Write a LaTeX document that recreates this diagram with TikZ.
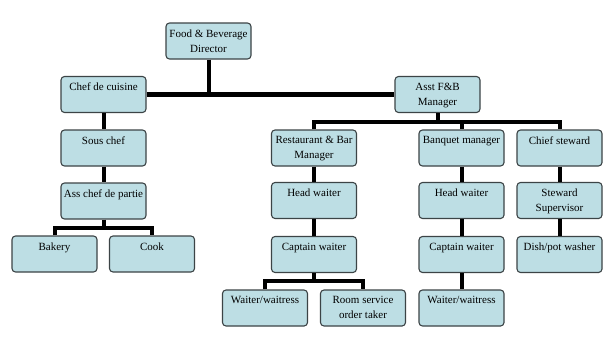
\documentclass[tikz,border=0pt]{standalone}
\usepackage{fontspec}
\setmainfont{Liberation Serif}
\definecolor{boxfill}{HTML}{BDDEE4}
\definecolor{boxline}{HTML}{3C4446}
\tikzset{
  box/.style={draw=boxline, fill=boxfill, rounded corners=3.5pt, line width=1.1pt,
    minimum width=85pt, minimum height=36pt, inner sep=0pt},
  lbl/.style={anchor=north, inner sep=0pt, align=center, text=black,
    font=\fontsize{11}{15}\selectfont},
  conn/.style={draw=black, line width=4pt, line join=miter},
}
\newcommand\obox[4]{%
  \node[box] (#1) at (#2,#3) {};
  \node[lbl] (#1-t) at ([yshift=-7pt]#1.north) {#4};}
\begin{document}
\begin{tikzpicture}[x=1pt,y=-1pt]
\useasboundingbox[fill=white] (0,0) rectangle (605,338);
% boxes
\obox{fbd}{208.5}{41}{Food \& Beverage\\Director}
\obox{cdc}{103.5}{94.5}{Chef de cuisine}
\obox{asst}{437.5}{94.5}{Asst F\&B\\Manager}
\obox{sous}{103.5}{148}{Sous chef}
\obox{acp}{103.5}{201}{Ass chef de partie}
\obox{bak}{54.5}{254}{Bakery}
\obox{cook}{152}{254}{Cook}
\obox{rb}{314}{148}{Restaurant \& Bar\\Manager}
\obox{hwa}{314}{200.5}{Head waiter}
\obox{cwa}{314}{254.5}{Captain waiter}
\obox{wwa}{265}{308}{Waiter/waitress}
\obox{rs}{363}{308}{Room service\\order taker}
\obox{bm}{461.5}{148}{Banquet manager}
\obox{hwb}{461.5}{200.5}{Head waiter}
\obox{cwb}{461.5}{254.5}{Captain waiter}
\obox{wwb}{461.5}{308}{Waiter/waitress}
\obox{cs}{559.5}{148}{Chief steward}
\obox{ss}{559.5}{200.5}{Steward\\Supervisor}
\obox{dish}{559.5}{254.5}{Dish/pot washer}
% connectors
\draw[conn, line width=5pt] (cdc.east) -- (asst.west);
\draw[conn] (fbd.south) -- (fbd.south |- cdc.east);
\draw[conn] (cdc.south) -- (sous.north);
\draw[conn] (sous.south) -- (acp.north);
\coordinate (kb) at ([yshift=-8pt]acp.south);
\draw[conn] (acp.south) -- (kb);
\draw[conn] (bak.north) |- (kb) -| (cook.north);
\coordinate (ab) at ([yshift=-8.5pt]asst.south);
\draw[conn] (asst.south) -- (ab);
\draw[conn] (rb.north) |- (ab) -| (cs.north);
\draw[conn] (ab -| bm.north) -- (bm.north);
\draw[conn] (rb.south) -- (hwa.north);
\draw[conn] (hwa.south) -- (cwa.north);
\coordinate (wb) at ([yshift=-8pt]cwa.south);
\draw[conn] (cwa.south) -- (wb);
\draw[conn] (wwa.north) |- (wb) -| (rs.north);
\draw[conn] (bm.south) -- (hwb.north);
\draw[conn] (hwb.south) -- (cwb.north);
\draw[conn] (cwb.south) -- (wwb.north);
\draw[conn] (cs.south) -- (ss.north);
\draw[conn] (ss.south) -- (dish.north);
\end{tikzpicture}
\end{document}
